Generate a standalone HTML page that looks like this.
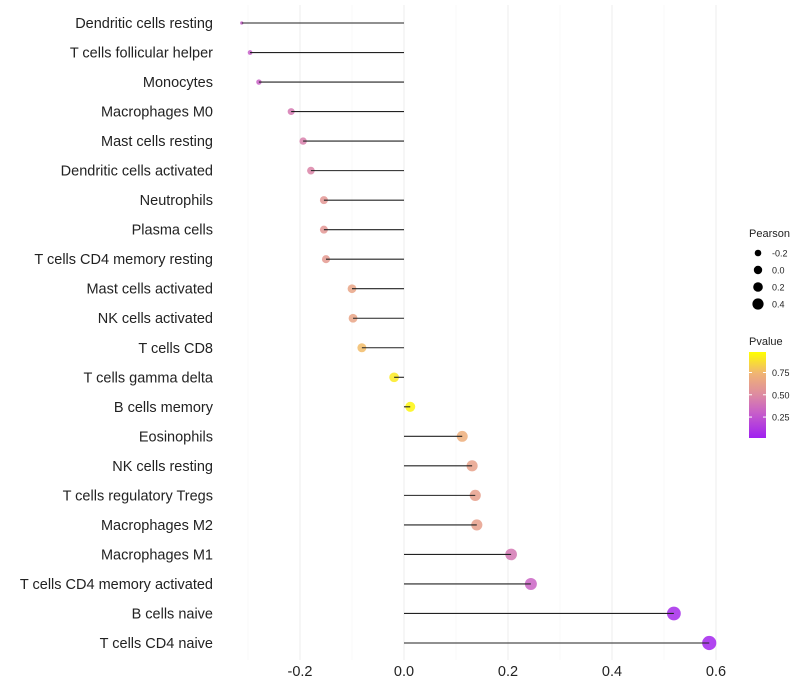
<!DOCTYPE html>
<html><head><meta charset="utf-8"><style>body{margin:0;background:#fff}svg{display:block;font-family:"Liberation Sans",sans-serif}</style></head><body>
<svg id="chart" width="800" height="700">
<defs><linearGradient id="pg" x1="0" y1="1" x2="0" y2="0">
<stop offset="0" stop-color="#a020f0"/><stop offset="0.3" stop-color="#c860c8"/><stop offset="0.5" stop-color="#dd8aa2"/><stop offset="0.75" stop-color="#f0b474"/><stop offset="1" stop-color="#ffff00"/></linearGradient></defs>
</svg>
<script>
const categories=["Dendritic cells resting","T cells follicular helper","Monocytes","Macrophages M0","Mast cells resting","Dendritic cells activated","Neutrophils","Plasma cells","T cells CD4 memory resting","Mast cells activated","NK cells activated","T cells CD8","T cells gamma delta","B cells memory","Eosinophils","NK cells resting","T cells regulatory  Tregs","Macrophages M2","Macrophages M1","T cells CD4 memory activated","B cells naive","T cells CD4 naive"];
const pearson=[-0.312,-0.296,-0.279,-0.217,-0.194,-0.179,-0.154,-0.154,-0.15,-0.1,-0.098,-0.081,-0.019,0.012,0.112,0.131,0.137,0.14,0.206,0.244,0.519,0.587];
const pvalues=[0.3,0.3,0.32,0.43,0.46,0.48,0.58,0.58,0.6,0.66,0.66,0.78,0.93,0.97,0.72,0.64,0.63,0.63,0.42,0.33,0.06,0.04];
const xTicks=[-0.2,0,0.2,0.4,0.6];
const xMinor=[-0.3,-0.1,0.1,0.3,0.5];
const sizeLegend=[-0.2,0,0.2,0.4];
const pTicks=[0.25,0.5,0.75];
const NS="http://www.w3.org/2000/svg",svg=document.getElementById('chart');
const x=v=>404+v*520;
const y=i=>23+i*(620/(categories.length-1));
const r=v=>1.4+5.7*Math.pow(Math.max(0,(v+0.313)/0.9),0.45);
const stops=[[0,[160,32,240]],[0.3,[200,96,200]],[0.5,[221,138,162]],[0.75,[240,180,116]],[1,[255,255,0]]];
function col(p){p=Math.max(0,Math.min(1,(p-0.015)/(1.0-0.015)));for(let k=1;k<stops.length;k++){if(p<=stops[k][0]){const a=stops[k-1],b=stops[k],t=(p-a[0])/(b[0]-a[0]);return 'rgb('+a[1].map((c,j)=>Math.round(c+(b[1][j]-c)*t)).join(',')+')';}}return 'rgb(255,255,0)';}
function mk(t,at,txt){const e=document.createElementNS(NS,t);for(const k in at)e.setAttribute(k,at[k]);if(txt!==undefined)e.textContent=txt;svg.appendChild(e);return e;}
xMinor.forEach(v=>{const e=mk('line',{x1:x(v),x2:x(v),y1:5,y2:660,stroke:'#f4f4f4','stroke-width':0.6});

});
xTicks.forEach(v=>{const e=mk('line',{x1:x(v),x2:x(v),y1:5,y2:660,stroke:'#eeeeee','stroke-width':1});


const t=mk('text',{x:x(v),y:676,'text-anchor':'middle','font-size':14.5,fill:'#222'},v===0?'0.0':String(v));

});
categories.forEach((c,i)=>{const t=mk('text',{x:213,y:y(i)+5,'text-anchor':'end','font-size':14.5,fill:'#222'},c);


const p=mk('circle',{cx:x(pearson[i]),cy:y(i),r:r(pearson[i]),fill:col(pvalues[i]),'fill-opacity':0.85});


const l=mk('line',{x1:x(0),x2:x(pearson[i]),y1:y(i),y2:y(i),stroke:'#222','stroke-width':1.1});

});
const lt=mk('text',{x:749,y:237,'font-size':11,fill:'#222'},'Pearson');


const lr=[3.3,4.2,4.8,5.6];
sizeLegend.forEach((v,i)=>{const cy=253+i*17;const c=mk('circle',{cx:758,cy:cy,r:lr[i],fill:'#000'});


const t=mk('text',{x:772,y:cy+3.5,'font-size':9,fill:'#222'},v.toFixed(1));

});
const pt=mk('text',{x:749,y:345,'font-size':11,fill:'#222'},'Pvalue');


const bar=mk('rect',{x:749,y:352,width:17,height:86,fill:'url(#pg)'});


const py=p=>438-(p-0.015)*(86/0.965);
pTicks.forEach(p=>{mk('line',{x1:749,x2:752,y1:py(p),y2:py(p),stroke:'#fff'});mk('line',{x1:763,x2:766,y1:py(p),y2:py(p),stroke:'#fff'});
const t=mk('text',{x:772,y:py(p)+3.5,'font-size':9,fill:'#222'},p.toFixed(2));

});
</script>
</body></html>
